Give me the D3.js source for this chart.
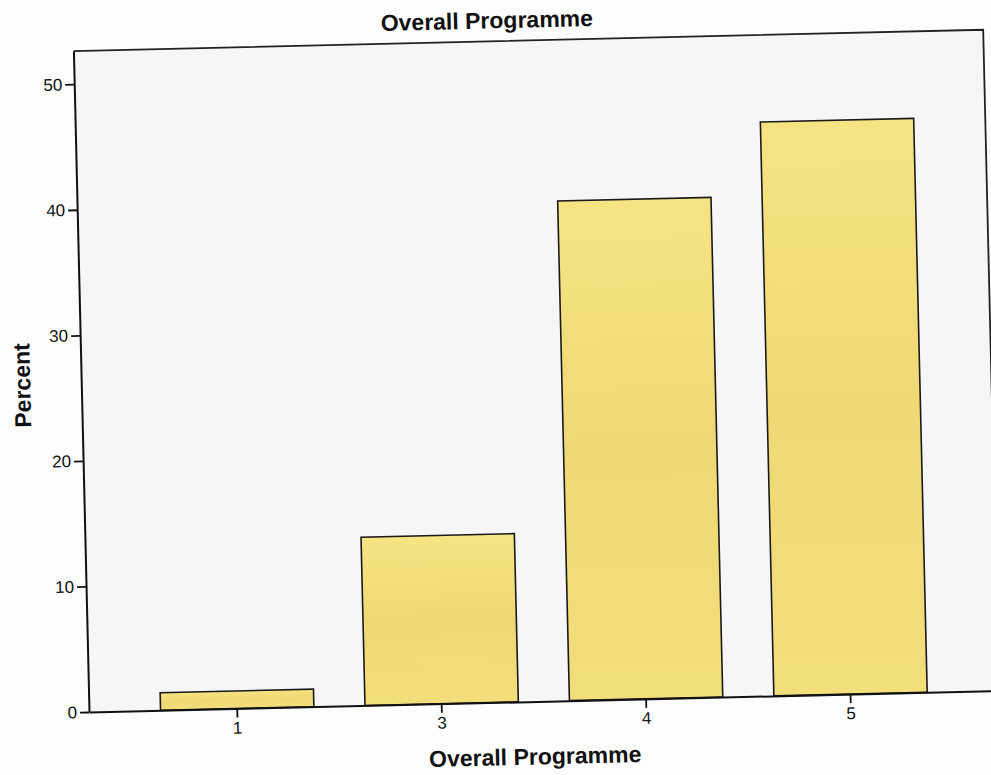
<!DOCTYPE html>
<html>
<head>
<meta charset="utf-8">
<script src="https://cdn.jsdelivr.net/npm/d3@7"></script>
<style>
  html, body { margin: 0; padding: 0; background: #fdfdfd; }
  svg { display: block; }
  text { font-family: "Liberation Sans", Arial, sans-serif; fill: #111; }
</style>
</head>
<body>
<svg id="chart" width="991" height="775"></svg>
<script>
// ---- data ----
const categories = ["1", "3", "4", "5"];
const percents = [1.4, 13.4, 39.8, 45.7];
const yTicks = [0, 10, 20, 30, 40, 50];
const chartTitle = "Overall Programme";
const xTitle = "Overall Programme";
const yTitle = "Percent";

// ---- layout ----
const W = 991, H = 775;
const x0 = 89, x1 = 999, yBottom = 712, yTop = 51;
const tilt = -1.35; // scanned page is slightly rotated

const svg = d3.select("#chart");
svg.append("rect").attr("width", W).attr("height", H).attr("fill", "#fdfdfd");

const g = svg.append("g").attr("transform", `rotate(${tilt},${x0},${yBottom})`);

const x = d3.scaleBand().domain(categories).range([x0, x1])
  .paddingInner(0.25).paddingOuter(0.35);
const y = d3.scaleLinear().domain([0, 52.63]).range([yBottom, yTop]);

// plot background
g.append("rect")
  .attr("x", x0).attr("y", yTop)
  .attr("width", x1 - x0).attr("height", yBottom - yTop)
  .attr("fill", "#f6f6f9");

// bars
const grad = svg.append("defs").append("linearGradient")
  .attr("id", "barGrad").attr("x1", 0).attr("y1", 0).attr("x2", 0).attr("y2", 1);
grad.append("stop").attr("offset", "0%").attr("stop-color", "#f6e382");
grad.append("stop").attr("offset", "50%").attr("stop-color", "#f0d974");
grad.append("stop").attr("offset", "100%").attr("stop-color", "#f3de7c");

g.selectAll("rect.bar")
  .data(categories.map((c, i) => ({ c, v: percents[i] })))
  .join("rect")
  .attr("class", "bar")
  .attr("x", d => x(d.c))
  .attr("y", d => y(d.v))
  .attr("width", x.bandwidth())
  .attr("height", d => y(0) - y(d.v))
  .attr("fill", "url(#barGrad)")
  .attr("stroke", "#1a1a1a")
  .attr("stroke-width", 1.6);

// frame (top & right)
g.append("path")
  .attr("d", `M${x0},${yTop}H${x1}V${yBottom}`)
  .attr("fill", "none").attr("stroke", "#222").attr("stroke-width", 1.8);

// axes
const yAxis = g.append("g").attr("transform", `translate(${x0},0)`)
  .call(d3.axisLeft(y).tickValues(yTicks).tickSize(9).tickPadding(3).tickSizeOuter(0));
const xAxis = g.append("g").attr("transform", `translate(0,${yBottom})`)
  .call(d3.axisBottom(x).tickSize(9).tickPadding(4).tickSizeOuter(0));

[yAxis, xAxis].forEach(a => {
  a.select(".domain").attr("stroke", "#111").attr("stroke-width", 2);
  a.selectAll(".tick line").attr("stroke", "#111").attr("stroke-width", 1.8);
  a.selectAll(".tick text").attr("font-size", 17).attr("fill", "#111")
    .attr("font-family", "'Liberation Sans', Arial, sans-serif");
});

// titles
g.append("text")
  .attr("x", 503).attr("y", 38)
  .attr("text-anchor", "middle")
  .attr("font-size", 23).attr("font-weight", "bold")
  .text(chartTitle);

g.append("text")
  .attr("x", 534).attr("y", 775)
  .attr("text-anchor", "middle")
  .attr("font-size", 23).attr("font-weight", "bold")
  .text(xTitle);

g.append("text")
  .attr("transform", `translate(38,384) rotate(-90)`)
  .attr("text-anchor", "middle")
  .attr("font-size", 23).attr("font-weight", "bold")
  .text(yTitle);
</script>
</body>
</html>
